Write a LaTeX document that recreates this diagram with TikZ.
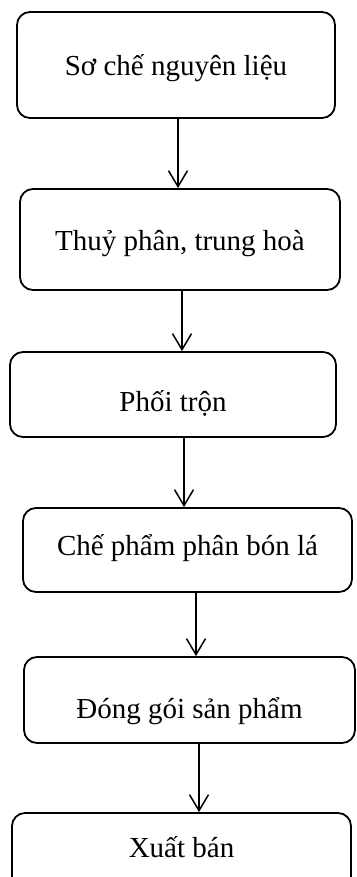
\documentclass[tikz,border=0pt]{standalone}
\usepackage{fontspec}
\setmainfont{Liberation Serif}
\usetikzlibrary{arrows.meta}
\begin{document}
\begin{tikzpicture}[x=1pt,y=-1pt,
  box/.style={draw, line width=1.8pt, rounded corners=13pt, inner sep=0pt,
    font=\fontsize{29}{34}\selectfont, text depth=0pt},
  arr/.style={line width=1.5pt, -{Straight Barb[length=16pt,width=19pt,line width=1.5pt]}}]
\useasboundingbox (0,0) rectangle (356,877);
\clip (0,0) rectangle (356,877);
\node[box, minimum width=318pt, minimum height=106pt, text height=21.2pt] (b1) at (176,65) {Sơ chế nguyên liệu};
\node[box, minimum width=320pt, minimum height=101pt, text height=22.2pt] (b2) at (180,239.5) {Thuỷ phân, trung hoà};
\node[box, minimum width=326pt, minimum height=85pt, text height=34.2pt] (b3) at (173,394.5) {Phối trộn};
\node[box, minimum width=329pt, minimum height=84pt, text height=11.2pt] (b4) at (187.5,550) {Chế phẩm phân bón lá};
\node[box, minimum width=331pt, minimum height=86pt, text height=37.2pt] (b5) at (189.5,700) {Đóng gói sản phẩm};
\node[box, minimum width=339pt, minimum height=80pt, text height=8.2pt] (b6) at (181.5,853) {Xuất bán};
\draw[arr] (b1.south -| 178,0) -- (b2.north -| 178,0);
\draw[arr] (b2.south -| 182,0) -- (b3.north -| 182,0);
\draw[arr] (b3.south -| 184,0) -- (b4.north -| 184,0);
\draw[arr] (b4.south -| 196,0) -- (b5.north -| 196,0);
\draw[arr] (b5.south -| 199,0) -- (b6.north -| 199,0);
\end{tikzpicture}
\end{document}
